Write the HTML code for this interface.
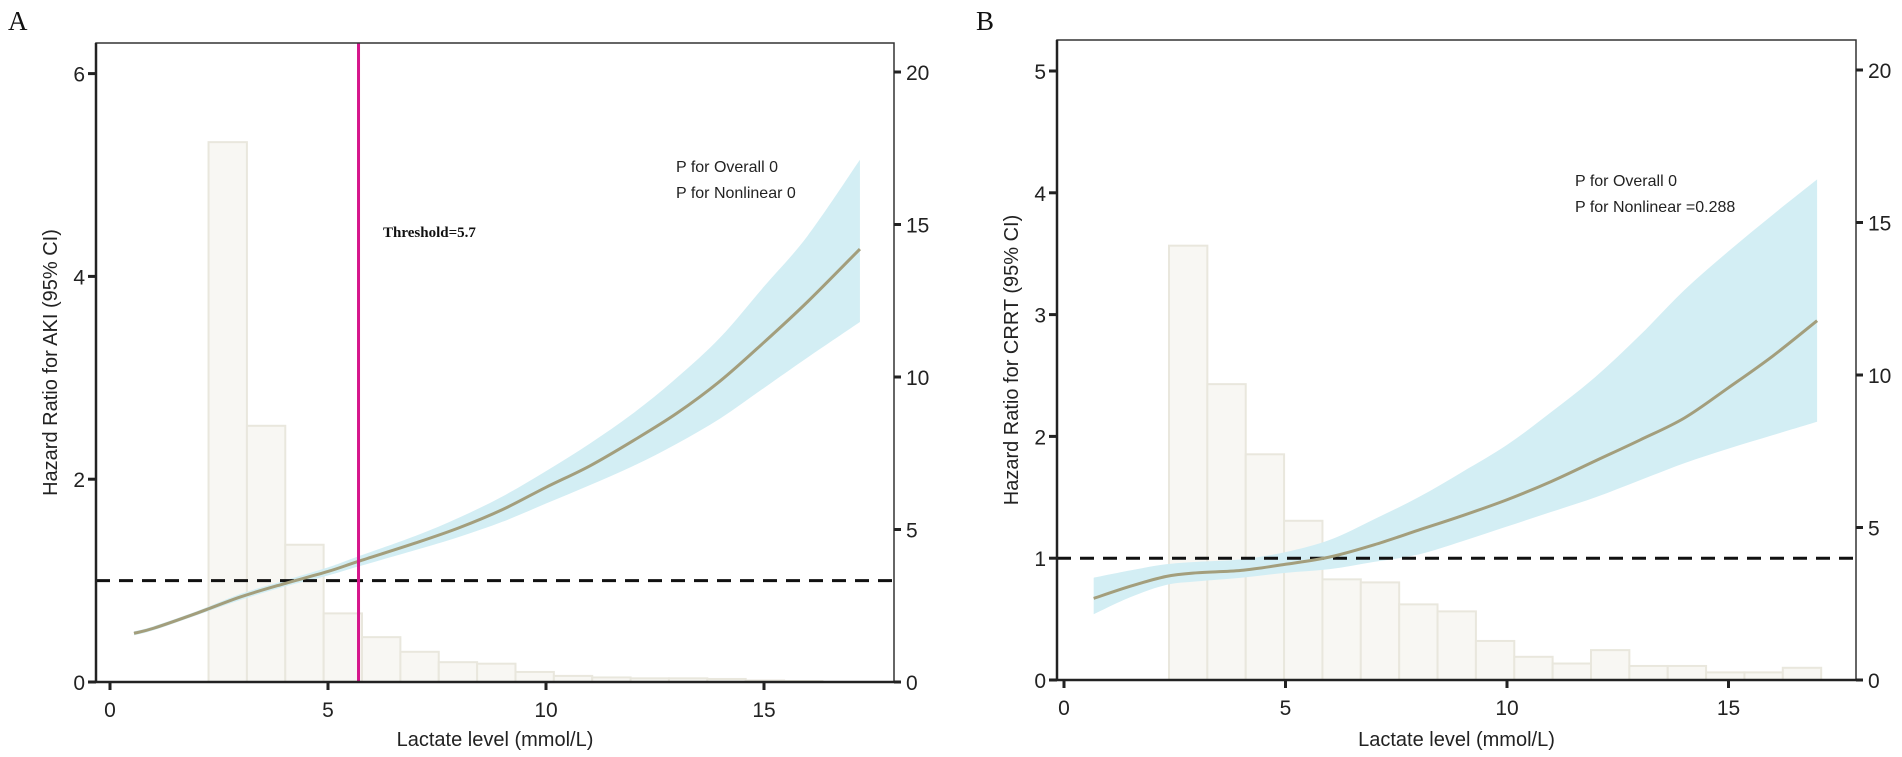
<!DOCTYPE html>
<html><head><meta charset="utf-8"><style>
html,body{margin:0;padding:0;background:#fff;}
svg{display:block;font-family:"Liberation Sans",Arial,sans-serif;}
</style></head><body>
<svg id="chart" width="1902" height="757" viewBox="0 0 1902 757" xmlns="http://www.w3.org/2000/svg">
<g id="pa"></g>
<g id="pb"></g>
</svg>
<script>
// ---------- Panel A data ----------
const aHistStart = 2.26;
const aHistWidth = 0.88;
const aHistCounts = [17.7, 8.4, 4.5, 2.25, 1.47, 0.99, 0.65, 0.6, 0.33, 0.2, 0.15, 0.12, 0.12, 0.1, 0.05, 0.03];
const aX =  [0.55, 1, 2, 3, 4, 5, 5.7, 7, 8, 9, 10, 11, 12, 13, 14, 15, 16, 17.2];
const aEst =[0.48,0.53,0.68,0.84,0.97,1.09,1.19,1.37,1.52,1.70,1.92,2.13,2.38,2.65,2.97,3.35,3.75,4.27];
const aLo = [0.46,0.51,0.66,0.81,0.94,1.05,1.14,1.30,1.43,1.58,1.76,1.94,2.13,2.35,2.60,2.90,3.20,3.55];
const aHi = [0.50,0.55,0.70,0.87,1.00,1.13,1.24,1.44,1.62,1.83,2.08,2.35,2.65,3.00,3.40,3.90,4.40,5.15];
const aThreshold = 5.7;
const aLeftTicks = [0, 2, 4, 6];
const aRightTicks = [0, 5, 10, 15, 20];
const xTicks = [0, 5, 10, 15];
// ---------- Panel B data ----------
const bHistStart = 2.37;
const bHistWidth = 0.866;
const bHistCounts = [14.24, 9.7, 7.4, 5.22, 3.3, 3.2, 2.48, 2.25, 1.28, 0.76, 0.54, 0.98, 0.46, 0.46, 0.25, 0.25, 0.4];
const bX =  [0.67, 1.5, 2.3, 3, 4, 5, 6, 7, 8, 9, 10, 11, 12, 13, 14, 15, 16, 17];
const bEst =[0.67,0.77,0.85,0.88,0.90,0.95,1.01,1.11,1.23,1.35,1.48,1.63,1.80,1.97,2.15,2.40,2.66,2.95];
const bLo = [0.54,0.68,0.78,0.81,0.84,0.88,0.91,0.97,1.03,1.14,1.26,1.38,1.50,1.64,1.78,1.90,2.01,2.12];
const bHi = [0.84,0.90,0.95,0.97,0.99,1.05,1.15,1.32,1.50,1.71,1.93,2.20,2.49,2.83,3.20,3.52,3.82,4.11];
const bLeftTicks = [0, 1, 2, 3, 4, 5];
const bRightTicks = [0, 5, 10, 15, 20];

const NS = "http://www.w3.org/2000/svg";
function mk(parent, tag, attrs, text){
  const e = document.createElementNS(NS, tag);
  for (const k in attrs) e.setAttribute(k, attrs[k]);
  if (text !== undefined) e.textContent = text;
  parent.appendChild(e);
  return e;
}
// Catmull-Rom smoothing through points; returns segment string (without initial M)
function smooth(pts){
  let s = "";
  for (let i = 0; i < pts.length - 1; i++){
    const p0 = pts[Math.max(0, i - 1)], p1 = pts[i], p2 = pts[i + 1], p3 = pts[Math.min(pts.length - 1, i + 2)];
    const c1 = [p1[0] + (p2[0] - p0[0]) / 6, p1[1] + (p2[1] - p0[1]) / 6];
    const c2 = [p2[0] - (p3[0] - p1[0]) / 6, p2[1] - (p3[1] - p1[1]) / 6];
    s += " C" + c1[0] + "," + c1[1] + " " + c2[0] + "," + c2[1] + " " + p2[0] + "," + p2[1];
  }
  return s;
}

function drawPanel(g, cfg){
  const sx = v => cfg.x0 + v * cfg.xu;
  const sy = v => cfg.bottom - v * cfg.yu;
  const sr = v => cfg.bottom - v * cfg.ru;
  const hg = mk(g, "g", {});
  
  
  cfg.counts.forEach((c, i) => {
    const x1 = sx(cfg.hStart + i * cfg.hWidth), x2 = sx(cfg.hStart + (i + 1) * cfg.hWidth);
    const r = mk(hg, "rect", {x: x1, y: sr(c), width: x2 - x1, height: cfg.bottom - sr(c), fill: "#f8f7f3", stroke: "#e9e7dd", "stroke-width": 2});
    
    
  });
  const hiPts = cfg.xs.map((x, i) => [sx(x), sy(cfg.hi[i])]);
  const loPts = cfg.xs.map((x, i) => [sx(x), sy(cfg.lo[i])]).reverse();
  const d = "M" + hiPts[0] + smooth(hiPts) + " L" + loPts[0] + smooth(loPts) + " Z";
  const band = mk(g, "path", {d: d, fill: "#d3eef4", stroke: "none"});
  
  
  const ref = mk(g, "line", {x1: cfg.left, x2: cfg.right, y1: sy(1), y2: sy(1), stroke: "#111", "stroke-width": 3, "stroke-dasharray": "14,9"});
  
  
  const estPts = cfg.xs.map((x, i) => [sx(x), sy(cfg.est[i])]);
  const curve = mk(g, "path", {d: "M" + estPts[0] + smooth(estPts), fill: "none", stroke: "#a39e7c", "stroke-width": 3, "stroke-linejoin": "round"});
  
  
  if (cfg.threshold !== undefined){
    const t = mk(g, "line", {x1: sx(cfg.threshold), x2: sx(cfg.threshold), y1: cfg.top, y2: cfg.bottom, stroke: "#d6168b", "stroke-width": 3});
    
    
  }
  const fr = mk(g, "rect", {x: cfg.left, y: cfg.top, width: cfg.right - cfg.left, height: cfg.bottom - cfg.top, fill: "none", stroke: "#333", "stroke-width": 1.5});
  
  
  const ax = mk(g, "line", {x1: cfg.left, x2: cfg.right, y1: cfg.bottom, y2: cfg.bottom, stroke: "#222", "stroke-width": 2.5});
  
  
  const ay = mk(g, "line", {x1: cfg.left, x2: cfg.left, y1: cfg.top, y2: cfg.bottom, stroke: "#222", "stroke-width": 2.5});
  
  
  xTicks.forEach(v => {
    const l = mk(g, "line", {x1: sx(v), x2: sx(v), y1: cfg.bottom, y2: cfg.bottom + 8, stroke: "#222", "stroke-width": 3});
    
    
    const t = mk(g, "text", {x: sx(v), y: cfg.bottom + 35, "font-size": 21, "text-anchor": "middle", fill: "#222"}, String(v));
    
    
  });
  cfg.lt.forEach(v => {
    const l = mk(g, "line", {x1: cfg.left - 8, x2: cfg.left, y1: sy(v), y2: sy(v), stroke: "#222", "stroke-width": 3});
    
    
    const t = mk(g, "text", {x: cfg.left - 11, y: sy(v) + 8, "font-size": 21, "text-anchor": "end", fill: "#222"}, String(v));
    
    
  });
  cfg.rt.forEach(v => {
    const l = mk(g, "line", {x1: cfg.right, x2: cfg.right + 7, y1: sr(v), y2: sr(v), stroke: "#222", "stroke-width": 3});
    
    
    const t = mk(g, "text", {x: cfg.right + 12, y: sr(v) + 8, "font-size": 21, fill: "#222"}, String(v));
    
    
  });
  const xt = mk(g, "text", {x: (cfg.left + cfg.right) / 2, y: 746, "font-size": 20, "text-anchor": "middle", fill: "#222"}, "Lactate level (mmol/L)");
  
  
  const yt = mk(g, "text", {x: 0, y: 0, "font-size": 20, "text-anchor": "middle", fill: "#222", transform: "translate(" + cfg.ytx + "," + ((cfg.top + cfg.bottom) / 2) + ") rotate(-90)"}, cfg.ytitle);
  
  
  const pl = mk(g, "text", {x: cfg.lx, y: 30, "font-size": 27, "font-family": "Liberation Serif, serif", fill: "#111"}, cfg.letter);
  
  
  cfg.stats.forEach((s, i) => {
    const t = mk(g, "text", {x: cfg.sx, y: cfg.sy + i * 26, "font-size": 16, fill: "#222"}, s);
    
    
  });
}

drawPanel(document.getElementById("pa"), {
  left: 96, right: 894, top: 43, bottom: 682, x0: 110, xu: 43.6, yu: 101.4, ru: 30.5,
  hStart: aHistStart, hWidth: aHistWidth, counts: aHistCounts,
  xs: aX, est: aEst, lo: aLo, hi: aHi, threshold: aThreshold,
  lt: aLeftTicks, rt: aRightTicks, ytx: 57, ytitle: "Hazard Ratio for AKI (95% CI)",
  lx: 8, letter: "A", stats: ["P for Overall 0", "P for Nonlinear 0"], sx: 676, sy: 172
});
const th = document.createElementNS(NS, "text");
th.setAttribute("x", 383); th.setAttribute("y", 237);
th.setAttribute("font-size", 15); th.setAttribute("font-weight", "bold");
th.setAttribute("font-family", "Liberation Serif, serif"); th.setAttribute("fill", "#111");
th.textContent = "Threshold=5.7";


document.getElementById("pa").appendChild(th);

drawPanel(document.getElementById("pb"), {
  left: 1057, right: 1856, top: 40, bottom: 680, x0: 1064, xu: 44.3, yu: 121.8, ru: 30.5,
  hStart: bHistStart, hWidth: bHistWidth, counts: bHistCounts,
  xs: bX, est: bEst, lo: bLo, hi: bHi,
  lt: bLeftTicks, rt: bRightTicks, ytx: 1018, ytitle: "Hazard Ratio for CRRT (95% CI)",
  lx: 976, letter: "B", stats: ["P for Overall 0", "P for Nonlinear =0.288"], sx: 1575, sy: 186
});
</script>
</body></html>
